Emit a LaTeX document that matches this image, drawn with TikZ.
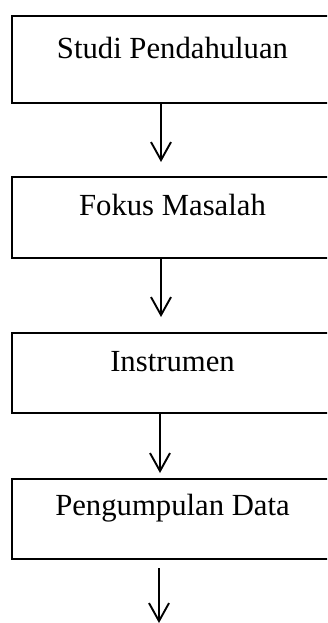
\documentclass[tikz,border=0pt]{standalone}
\usepackage{fontspec}
\setmainfont{Liberation Serif}
\usetikzlibrary{arrows.meta}
\begin{document}
\begin{tikzpicture}[x=1pt,y=-1pt,
  box/.style={draw, line width=2.4pt, rectangle, minimum width=323pt, inner sep=0pt, anchor=north west},
  lbl/.style={anchor=base, inner sep=0pt, font=\fontsize{30.7}{36}\selectfont},
  arr/.style={line width=1.9pt, -{Straight Barb[length=18pt,width=20pt,line width=1.9pt]}}]
\useasboundingbox (0,0) rectangle (327,623);
\clip (0,0) rectangle (327,623);
\node[box, minimum height=87pt] (b1) at (11,15) {};
\node[box, minimum height=81pt] (b2) at (11,176) {};
\node[box, minimum height=80pt] (b3) at (11,332) {};
\node[box, minimum height=80pt] (b4) at (11,478) {};
\node[lbl] (t1) at (172.5,59) {Studi Pendahuluan};
\node[lbl] (t2) at (172.5,215) {Fokus Masalah};
\node[lbl] (t3) at (172.5,371) {Instrumen};
\node[lbl] (t4) at (172.5,515) {Pengumpulan Data};
\coordinate (e1) at (161,162);
\coordinate (e2) at (161,317);
\coordinate (e3) at (160,473);
\coordinate (s4) at (159,568);
\coordinate (e4) at (159,623);
\draw[arr] (b1.south -| e1) -- (e1);
\draw[arr] (b2.south -| e2) -- (e2);
\draw[arr] (b3.south -| e3) -- (e3);
\draw[arr] (s4) -- (e4);
\end{tikzpicture}
\end{document}
